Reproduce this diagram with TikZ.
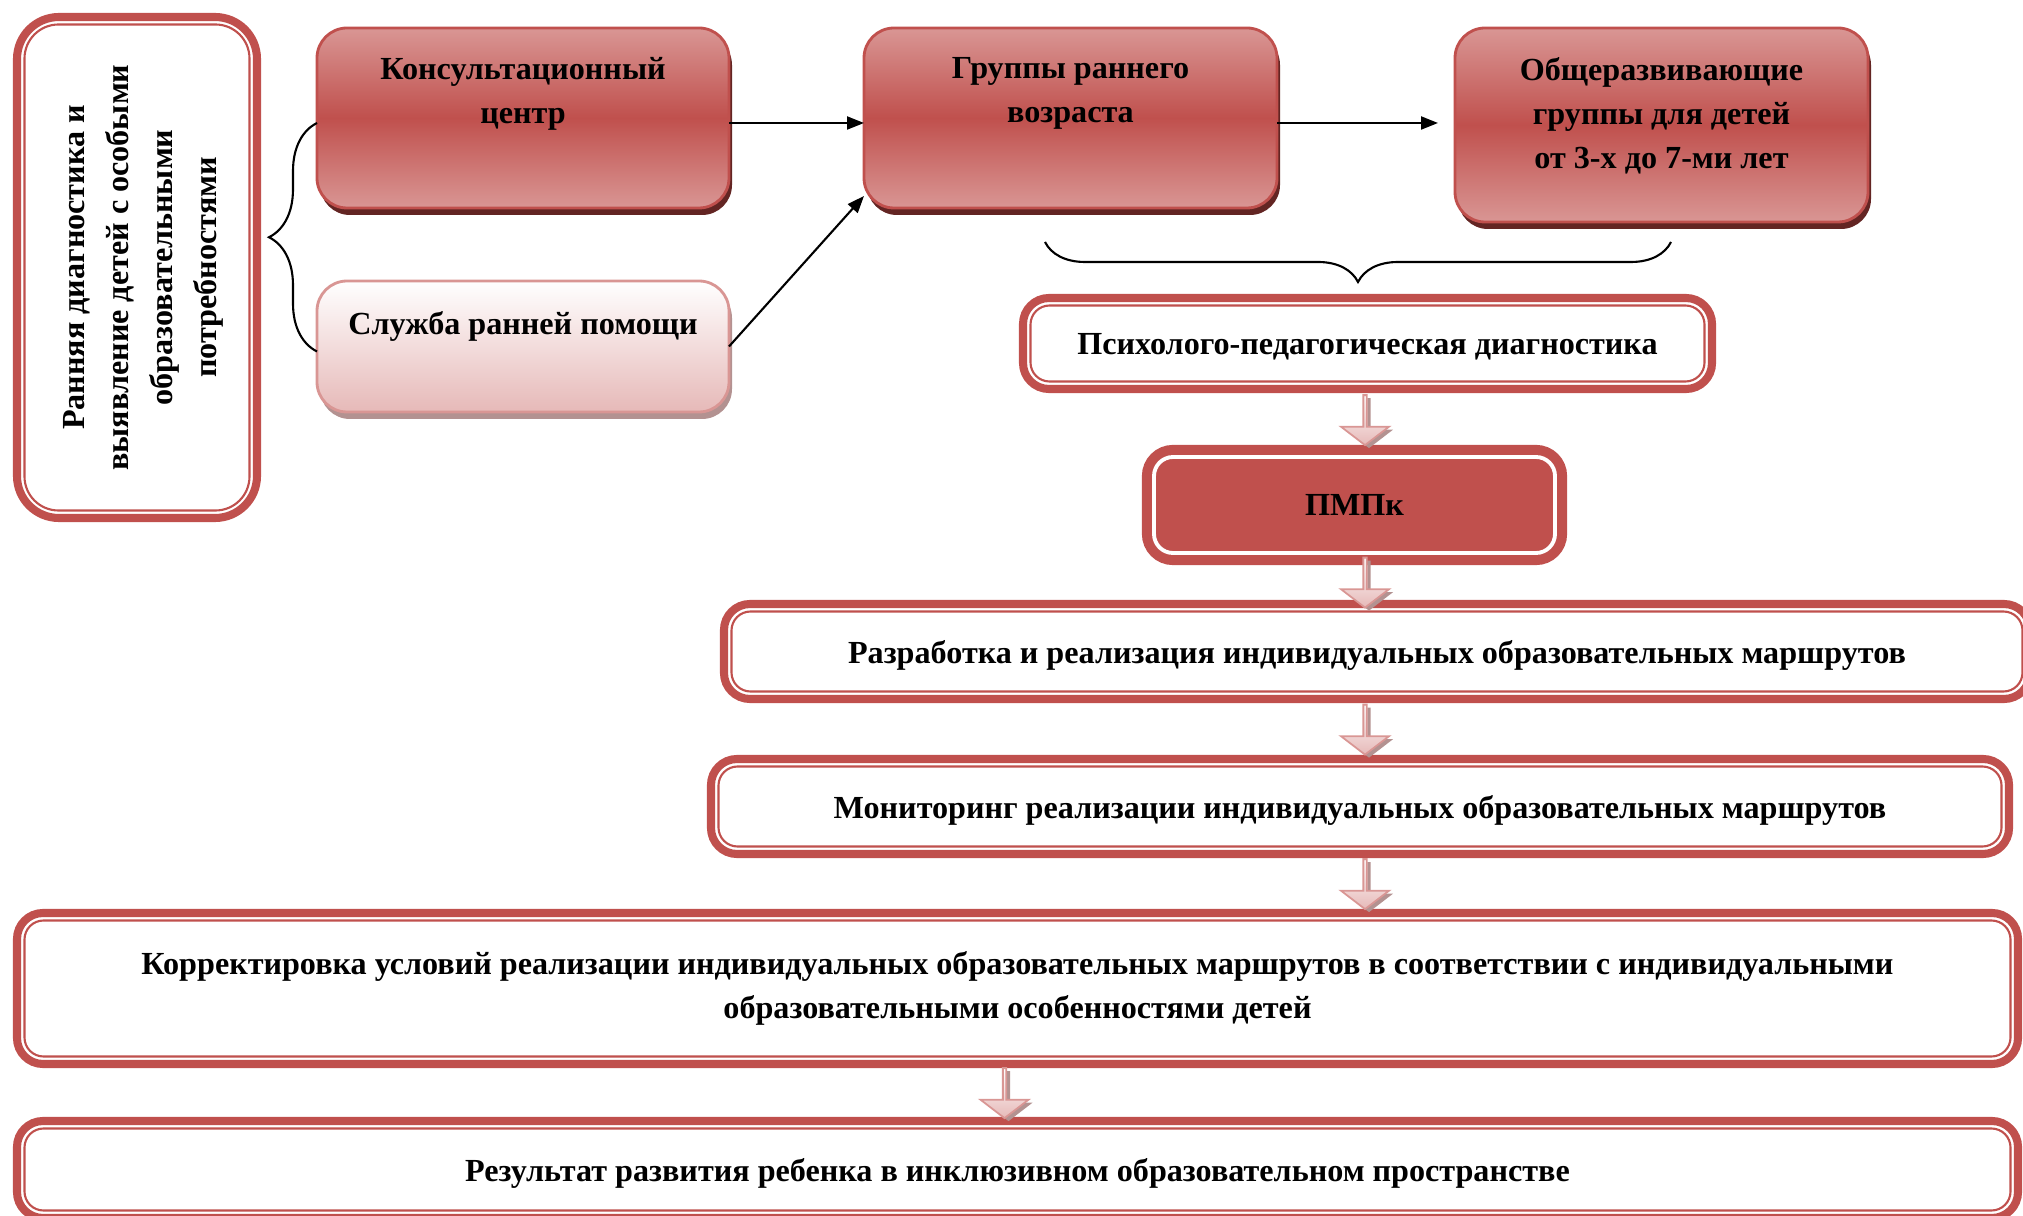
\documentclass[tikz,border=0pt]{standalone}
\usepackage{fontspec}
\setmainfont{Liberation Serif}
\usetikzlibrary{arrows.meta, decorations.pathreplacing, shapes.arrows, shadows, positioning}

\definecolor{boxred}{HTML}{C0504D}
\definecolor{boxlight}{HTML}{D99694}
\definecolor{boxshadow}{HTML}{632523}
\definecolor{pinklight}{HTML}{E6B9B8}
\definecolor{pinkshadow}{HTML}{B39291}

\tikzset{
  txt/.style={font=\bfseries\fontsize{9.15}{12.5}\selectfont, align=center, inner sep=0pt},
  oneline/.style={text depth=0pt},
  frame/.style={txt, draw=boxred, line width=2.3pt, fill=white, rounded corners=0.26cm, outer sep=0pt},
  innerline/.style={draw=boxred, line width=0.6pt, rounded corners=0.19cm},
  redbox/.style={draw=boxred, line width=0.8pt, rounded corners=0.3cm, outer sep=0pt,
    top color=boxlight, bottom color=boxlight, middle color=boxred,
    drop shadow={fill=boxshadow, opacity=1, shadow xshift=0.03cm, shadow yshift=-0.07cm}},
  pinkbox/.style={draw=boxlight, line width=0.8pt, rounded corners=0.3cm, outer sep=0pt,
    top color=white, bottom color=pinklight,
    drop shadow={fill=pinkshadow, opacity=1, shadow xshift=0.03cm, shadow yshift=-0.07cm}},
  conn/.style={-{Triangle[length=0.17cm, width=0.13cm]}, line width=0.6pt},
  fatarrow/.style={single arrow, shape border rotate=270, draw=boxlight, line width=0.5pt,
    top color=white, bottom color=pinklight, minimum height=0.5cm, minimum width=0.48cm,
    single arrow head extend=0.12cm, single arrow tip angle=105, inner sep=0pt,
    drop shadow={fill=pinkshadow, opacity=1, shadow xshift=0.04cm, shadow yshift=-0.03cm}},
}

\begin{document}
\begin{tikzpicture}
  \useasboundingbox (0,0) rectangle (20.23,-12.16);

  % Left column
  \node[frame, rounded corners=0.42cm, minimum width=2.40cm, minimum height=5.01cm] (left) at (1.37,-2.675) {};
  \node[txt, rotate=90] (leftT) at ([xshift=0.06cm]left.center) {Ранняя диагностика и\\выявление детей с особыми\\образовательными\\потребностями};

  % Upper row
  \node[redbox, minimum width=4.12cm, minimum height=1.80cm] (kons) at (5.23,-1.18) {};
  \node[pinkbox, minimum width=4.12cm, minimum height=1.31cm] (sluzh) at (5.23,-3.465) {};
  \node[redbox, minimum width=4.13cm, minimum height=1.80cm] (grp) at (10.705,-1.18) {};
  \node[redbox, minimum width=4.13cm, minimum height=1.94cm] (obsh) at (16.615,-1.25) {};
  \node[txt, below=0.29cm of kons.north] (konsT) {Консультационный\\центр};
  \node[txt, below=0.30cm of sluzh.north] (sluzhT) {Служба ранней помощи};
  \node[txt, below=0.29cm of grp.north] (grpT) {Группы раннего\\возраста};
  \node[txt, below=0.29cm of obsh.north] (obshT) {Общеразвивающие\\группы для детей\\от 3-х до 7-ми лет};

  % Framed steps
  \node[frame, oneline, minimum width=6.89cm, minimum height=0.91cm] (diag) at (13.675,-3.435) {Психолого-педагогическая диагностика};
  \node[frame, fill=boxred, line width=2.9pt, minimum width=4.15cm, minimum height=1.10cm] (pmpk) at (13.545,-5.05) {ПМПк};
  \node[frame, oneline, minimum width=13.06cm, minimum height=0.95cm] (razr) at (13.77,-6.515) {Разработка и реализация индивидуальных образовательных маршрутов};
  \node[frame, oneline, minimum width=12.98cm, minimum height=0.95cm] (mon) at (13.60,-8.065) {Мониторинг реализации индивидуальных образовательных маршрутов};
  \node[frame, minimum width=20.01cm, minimum height=1.51cm] (korr) at (10.175,-9.885) {Корректировка условий реализации индивидуальных образовательных маршрутов в соответствии с индивидуальными\\образовательными особенностями детей};
  \node[frame, oneline, minimum width=20.01cm, minimum height=0.97cm] (res) at (10.175,-11.695) {Результат развития ребенка в инклюзивном образовательном пространстве};

  % Inner lines of the frames
  \foreach \n in {diag, razr, mon, korr, res}
    \draw[innerline] ([shift={(0.075,0.075)}]\n.south west) rectangle ([shift={(-0.075,-0.075)}]\n.north east);
  \draw[innerline, rounded corners=0.34cm] ([shift={(0.075,0.075)}]left.south west) rectangle ([shift={(-0.075,-0.075)}]left.north east);
  \draw[innerline, draw=white, line width=1.1pt] ([shift={(0.07,0.07)}]pmpk.south west) rectangle ([shift={(-0.07,-0.07)}]pmpk.north east);

  % Braces
  \draw[decorate, decoration={brace, amplitude=0.48cm}, line width=0.6pt] ([yshift=-0.05cm]sluzh.west) -- ([yshift=-0.05cm]kons.west);
  \coordinate (brL) at (10.45,-2.42);
  \coordinate (brR) at (16.71,-2.42);
  \draw[decorate, decoration={brace, amplitude=0.40cm}, line width=0.6pt] (brR) -- (brL);

  % Connectors
  \draw[conn] ([yshift=-0.05cm]kons.east) -- ([yshift=-0.05cm]grp.west);
  \draw[conn] (sluzh.east) -- ([yshift=0.12cm]grp.south west);
  \draw[conn, shorten >=0.17cm] ([yshift=-0.05cm]grp.east) -- ([yshift=-0.05cm]grp.east -| obsh.west);

  % Block arrows
  \coordinate (axis) at (13.65,0);
  \foreach \a/\b in {diag/pmpk, pmpk/razr, razr/mon, mon/korr}
    \path (\a.south -| axis) -- (\b.north -| axis) node[fatarrow, midway] {};
  \path ([xshift=-0.13cm]korr.south) -- ([xshift=-0.13cm]res.north) node[fatarrow, midway] {};
\end{tikzpicture}
\end{document}
